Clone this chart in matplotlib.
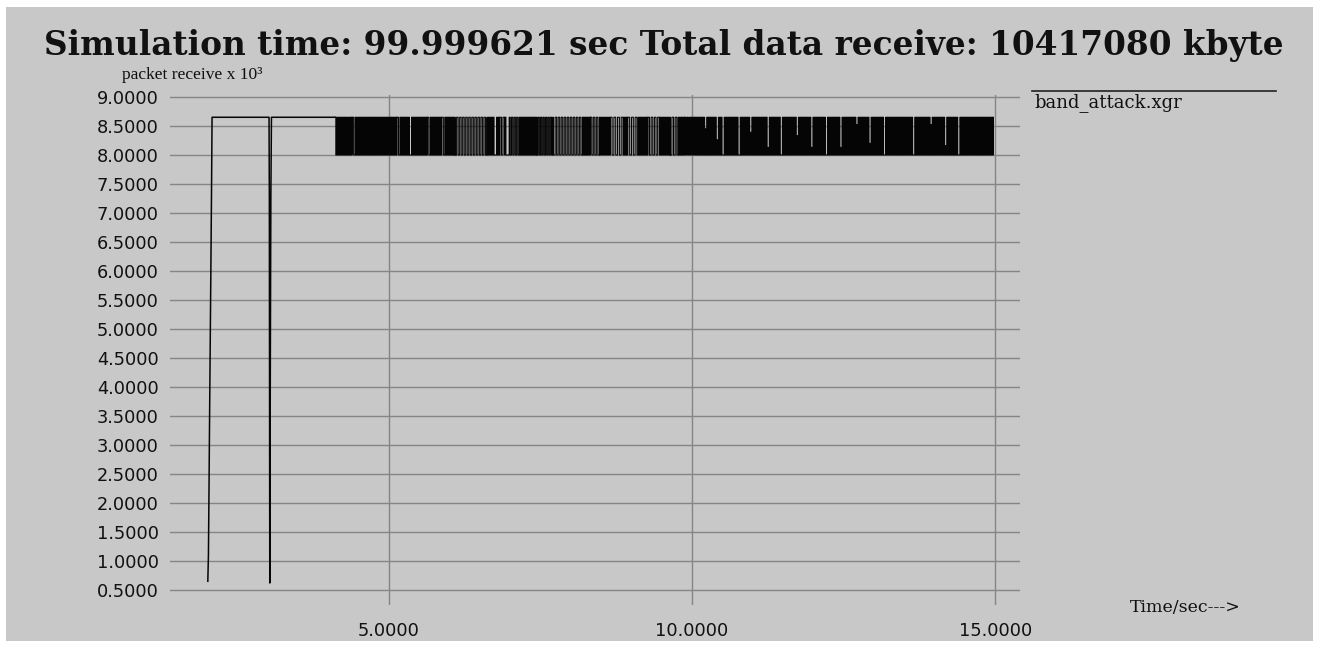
import numpy as np
import matplotlib
matplotlib.use("Agg")
import matplotlib.pyplot as plt
from matplotlib.patches import Rectangle
from matplotlib.lines import Line2D

# ---- packets received (x 10^3) against simulation time (s) ----
# start-up ramp, first outage and the flat stretch before the attack band
lead_t = [2.01, 2.02, 2.03, 2.04, 2.05, 2.06, 2.07, 2.08,
          3.02, 3.025, 3.032, 3.042, 3.05, 3.06, 4.11]
lead_v = [0.65, 1.10, 2.30, 3.60, 4.80, 6.00, 7.25, 8.65,
          8.65, 7.25, 0.62, 4.60, 7.25, 8.65, 8.65]

# attack band: receive rate flips between two levels
band_low = 8.0
band_high = 8.65
# band pieces (boundaries in s) and the flip spacing inside each piece
band_bounds = [4.11, 4.39, 4.44, 5.13, 5.18, 5.63, 5.68, 5.87, 5.92, 6.09,
               6.62, 6.83, 6.91, 7.00, 7.16, 7.44, 7.71, 7.74, 8.20, 8.32,
               8.48, 8.65, 8.86, 8.94, 9.11, 9.27, 9.47, 9.64, 9.77, 9.88,
               10.05, 14.97]
band_steps = [0.012, 0.026, 0.012, 0.026, 0.012, 0.026, 0.012, 0.026, 0.012,
              0.025, 0.014, 0.025, 0.018, 0.021, 0.012, 0.020, 0.035, 0.025,
              0.012, 0.025, 0.016, 0.030, 0.012, 0.030, 0.012, 0.027, 0.014,
              0.027, 0.012, 0.018, 0.012]
# short spells where the upper level is not reached (time, peak value)
notch_t = [5.35, 6.25, 6.45, 6.75, 6.95, 7.72, 9.70,
           10.23, 10.41, 10.50, 10.76, 10.97, 11.24, 11.47, 11.72, 11.98,
           12.21, 12.44, 12.71, 12.94, 13.18, 13.66, 13.93, 14.17, 14.39]
notch_peak = [8.0, 8.0, 8.0, 8.0, 8.0, 8.0, 8.0,
              8.45, 8.26, 8.0, 8.0, 8.39, 8.13, 8.0, 8.33, 8.13,
              8.0, 8.13, 8.52, 8.20, 8.0, 8.0, 8.52, 8.16, 8.0]
notch_halfwidth = 0.012

ytick_values = [0.5, 1.0, 1.5, 2.0, 2.5, 3.0, 3.5, 4.0, 4.5,
                5.0, 5.5, 6.0, 6.5, 7.0, 7.5, 8.0, 8.5, 9.0]
xtick_values = [5.0, 10.0, 15.0]

title_text = "Simulation time: 99.999621 sec Total data receive: 10417080 kbyte"
ylabel_text = "packet receive x 10\u00b3"
xlabel_text = "Time/sec--->"
legend_text = "band_attack.xgr"

# ---- expand the band into alternating samples ----
band_t = []
for t0, t1, step in zip(band_bounds[:-1], band_bounds[1:], band_steps):
    band_t.extend(np.arange(t0, t1, step).tolist())
band_t.append(band_bounds[-1])
band_t = np.array(band_t)
band_v = np.where(np.arange(len(band_t)) % 2 == 0, band_high, band_low)
for nt, peak in zip(notch_t, notch_peak):
    sel = (np.abs(band_t - nt) < notch_halfwidth) & (band_v > band_low)
    band_v[sel] = peak

# ---- figure ----
W, H = 1320, 648
fig = plt.figure(figsize=(W / 100, H / 100), dpi=100, facecolor="white")
panel = "#c8c8c8"
fig.add_artist(Rectangle((6 / W, 7 / H), (W - 13) / W, (H - 14) / H,
                         transform=fig.transFigure, facecolor=panel,
                         edgecolor="none", zorder=0))

ax = fig.add_axes([170 / W, 43 / H, 850 / W, 510 / H])
ax.set_facecolor("none")
ax.set_xlim(1.386, 15.41)
ax.set_ylim(0.241, 9.034)
for s in ax.spines.values():
    s.set_visible(False)

grid_c = "#858585"
for y in ytick_values:
    ax.axhline(y, color=grid_c, lw=1.0, zorder=1)
for x in xtick_values:
    ax.axvline(x, color=grid_c, lw=1.0, zorder=1)

line_c = "#050505"
ax.plot(lead_t, lead_v, color=line_c, lw=1.1, zorder=3)
ax.plot(band_t, band_v, color=line_c, lw=0.8, drawstyle="steps-post", zorder=3)

ax.set_yticks(ytick_values, labels=[f"{v:.4f}" for v in ytick_values])
ax.set_xticks(xtick_values, labels=[f"{v:.4f}" for v in xtick_values])
ax.tick_params(axis="y", length=0, pad=8, labelsize=12.8, colors="#111111")
ax.tick_params(axis="x", length=0, pad=12, labelsize=12.8, colors="#111111")

fig.text(0.503, 1 - 46 / H, title_text, ha="center", va="center",
         family=["DejaVu Serif"], weight="bold", fontsize=23.6, color="#111111")
fig.text(122 / W, 1 - 75 / H, ylabel_text, ha="left", va="center",
         family=["Liberation Serif", "DejaVu Serif"], fontsize=12.6,
         color="#111111")
fig.text(1130 / W, 1 - 607 / H, xlabel_text, ha="left", va="center",
         family=["DejaVu Serif"], fontsize=12.5, color="#111111")

# legend entry
fig.add_artist(Line2D([1032 / W, 1276 / W], [1 - 91 / H, 1 - 91 / H],
                      transform=fig.transFigure, color="#222222", lw=1.2))
fig.text(1034 / W, 1 - 103 / H, legend_text, ha="left", va="center",
         family=["DejaVu Serif"], fontsize=13, color="#111111")

fig.savefig("out.png", dpi=100, facecolor="white")
